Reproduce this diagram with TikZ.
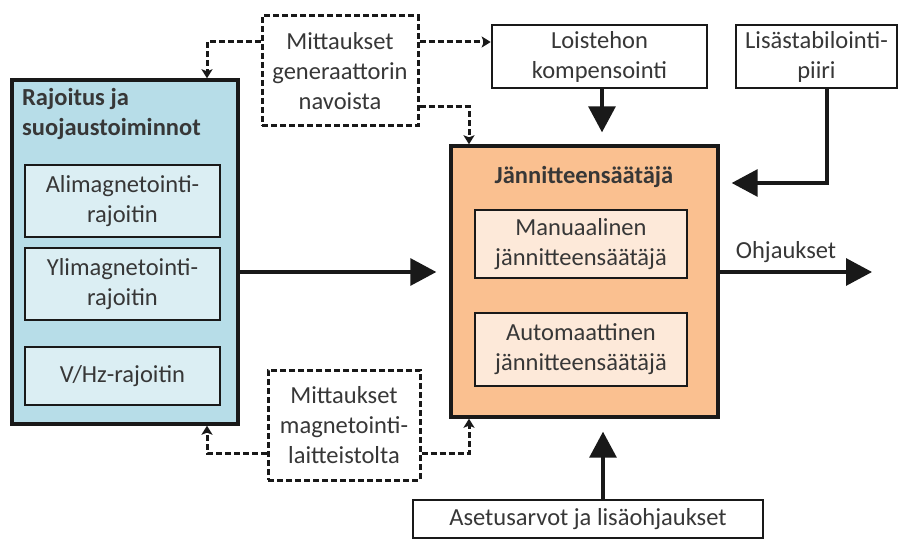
\documentclass[tikz,border=0pt]{standalone}
\usepackage{fontspec}
\setmainfont{Carlito}
\usetikzlibrary{arrows.meta}
\definecolor{blueout}{RGB}{183,221,232}
\definecolor{bluein}{RGB}{219,238,243}
\definecolor{orout}{RGB}{250,192,144}
\definecolor{orin}{RGB}{253,233,217}
\definecolor{inkc}{RGB}{25,25,25}
\definecolor{txtc}{RGB}{55,55,55}
\tikzset{
  box/.style={draw=inkc, rectangle, align=center, text=txtc, inner sep=0pt,
    font=\fontsize{24.5}{30}\selectfont},
  outer/.style={box, line width=3.4pt},
  inner/.style={box, line width=2.4pt},
  plain/.style={box, line width=2.6pt, fill=white},
  dbox/.style={box, line width=3pt, dash pattern=on 6pt off 3pt, fill=white},
  darr/.style={draw=inkc, line width=3pt, dash pattern=on 6pt off 3pt,
    -{Stealth[length=9pt,width=11pt,inset=2pt]}},
  sarr/.style={draw=inkc, line width=3.2pt, -{Triangle[length=26pt,width=27pt]}},
}
\begin{document}
\begin{tikzpicture}[x=1pt,y=-1pt]
\useasboundingbox (0,0) rectangle (903,540);
% left group
\node[outer, fill=blueout, minimum width=226pt, minimum height=344pt] (blue) at (125,252) {};
\node[box, draw=none, anchor=north west, align=left, font=\fontsize{24.5}{30}\selectfont\bfseries] (btitle) at (22,88) {Rajoitus ja\\suojaustoiminnot};
\node[inner, fill=bluein, minimum width=195pt, minimum height=72pt] (ali) at (122.5,201) {Alimagnetointi-\\rajoitin};
\node[inner, fill=bluein, minimum width=195pt, minimum height=72pt] (yli) at (122.5,284) {Ylimagnetointi-\\rajoitin};
\node[inner, fill=bluein, minimum width=195pt, minimum height=58pt] (vhz) at (122.5,376) {V/Hz-rajoitin};
% orange group
\node[outer, fill=orout, minimum width=267pt, minimum height=271pt] (orange) at (584.5,281.5) {};
\node[box, draw=none, font=\fontsize{24.5}{30}\selectfont\bfseries] (otitle) at (584,177) {Jännitteensäätäjä};
\node[inner, fill=orin, minimum width=212pt, minimum height=68pt] (manu) at (581,244) {Manuaalinen\\jännitteensäätäjä};
\node[inner, fill=orin, minimum width=212pt, minimum height=73pt] (auto) at (581,349.5) {Automaattinen\\jännitteensäätäjä};
% other boxes
\node[dbox, minimum width=156pt, minimum height=110pt] (dtop) at (340,71) {Mittaukset\\generaattorin\\navoista};
\node[dbox, minimum width=152pt, minimum height=110pt] (dbot) at (344,425) {Mittaukset\\magnetointi-\\laitteistolta};
\node[plain, minimum width=215pt, minimum height=63pt] (loist) at (599.5,56.5) {Loistehon\\kompensointi};
\node[plain, minimum width=161pt, minimum height=63pt] (lisa) at (816.5,56.5) {Lisästabilointi-\\piiri};
\node[plain, minimum width=350pt, minimum height=38pt] (aset) at (588,519) {Asetusarvot ja lisäohjaukset};
\node[box, draw=none] (ohj) at (786,252) {Ohjaukset};
\coordinate (out) at (872,272);
% dashed connectors
\draw[darr] (dtop.west |- 0,42) -| (blue.north -| 207,0);
\draw[darr] (dtop.east |- 0,42) -- (loist.west |- 0,42);
\draw[darr] (dtop.east |- 0,107) -| (orange.north -| 469,0);
\draw[darr] (dbot.west |- 0,453) -| (blue.south -| 207,0);
\draw[darr] (dbot.east |- 0,453) -| (orange.south -| 469,0);
% solid connectors
\draw[sarr, shorten >=12pt] (loist.south -| 602,0) -- (orange.north -| 602,0);
\draw[sarr, shorten >=12pt] (lisa.south -| 827,0) |- (orange.east |- 0,183);
\draw[sarr, shorten >=13pt] (blue.east |- 0,272) -- (orange.west |- 0,272);
\draw[sarr] (orange.east |- 0,272) -- (out);
\draw[sarr, shorten >=13pt] (aset.north -| 603,0) -- (orange.south -| 603,0);
\end{tikzpicture}
\end{document}
